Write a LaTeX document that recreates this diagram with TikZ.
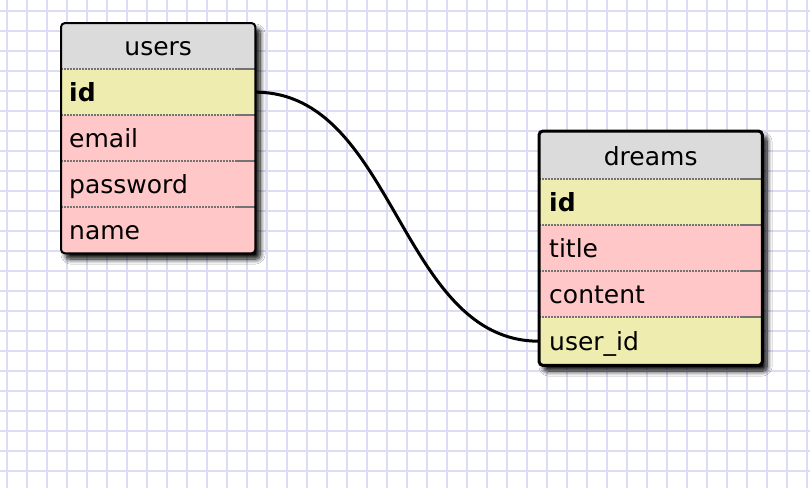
\documentclass[tikz,border=0pt]{standalone}
\usepackage{fontspec}
\setmainfont{DejaVu Sans}
\usepackage{tikz}
\usetikzlibrary{shadows.blur}
\definecolor{gridc}{RGB}{220,220,244}
\definecolor{headc}{RGB}{219,219,219}
\definecolor{keyc}{RGB}{238,236,175}
\definecolor{rowc}{RGB}{255,199,199}
\definecolor{sepc}{RGB}{115,115,115}

\begin{document}
\begin{tikzpicture}[x=1pt, y=-1pt, font=\fontsize{25}{30}\selectfont,
    cell/.style={anchor=north west, inner sep=0pt, inner xsep=8pt, minimum height=46pt,
      text width=#1, align=left, text height=20pt, text depth=2pt},
    head/.style={fill=headc, align=center},
    key/.style={fill=keyc},
    row/.style={fill=rowc},
    sep/.style={sepc, line width=1.5pt, dash pattern=on 1.5pt off 1.5pt},
    septip/.style={sepc, line width=2pt},
    shade/.style={rounded corners=4pt, fill=white, blur shadow={shadow xshift=5pt,
      shadow yshift=-6pt, shadow blur radius=5pt, shadow opacity=100,
      shadow blur steps=8}}]
    \useasboundingbox (0,0) rectangle (810,488);
    \fill[white] (0,0) rectangle (810,488);
    % grid
    \foreach \x in {7,27,...,807} \draw[gridc, line width=1.6pt] (\x,0) -- (\x,488);
    \foreach \y in {11,31,...,491} \draw[gridc, line width=1.6pt] (0,\y) -- (810,\y);

    % users
    \path[shade] (61,23) rectangle (255,253);
    \begin{scope}
      \clip[rounded corners=4pt] (61,23) rectangle (255,253);
      \node [cell=178pt, head] (uhead) at (61, 23) {users};
      \node [cell=178pt, key] (uid) at (61, 69) {\textbf{id}};
      \node [cell=178pt, row] (uemail) at (61, 115) {email};
      \node [cell=178pt, row] (upass) at (61, 161) {password};
      \node [cell=178pt, row] (uname) at (61, 207) {name};
    \end{scope}
    \foreach \n in {uid, uemail, upass, uname} {
      \draw[sep] (\n.north west) -- (\n.north east);
      \draw[septip] ([xshift=-20pt]\n.north east) -- (\n.north east);
    }
    \draw[rounded corners=4pt, line width=2pt] (uhead.north west) rectangle (uname.south east);

    % dreams
    \path[shade] (539,131) rectangle (762,365);
    \begin{scope}
      \clip[rounded corners=4pt] (539,131) rectangle (762,365);
      \node [cell=203pt, inner xsep=10pt, head, minimum height=48pt, text height=22pt] (dhead) at (539, 131) {dreams};
      \node [cell=203pt, inner xsep=10pt, key] (did) at (539, 179) {\textbf{id}};
      \node [cell=203pt, inner xsep=10pt, row] (dtitle) at (539, 225) {title};
      \node [cell=203pt, inner xsep=10pt, row] (dcontent) at (539, 271) {content};
      \node [cell=203pt, inner xsep=10pt, key, minimum height=48pt] (duid) at (539, 317) {user\_id};
    \end{scope}
    \foreach \n in {did, dtitle, dcontent, duid} {
      \draw[sep] (\n.north west) -- (\n.north east);
      \draw[septip] ([xshift=-20pt]\n.north east) -- (\n.north east);
    }
    \draw[rounded corners=4pt, line width=3pt] (dhead.north west) rectangle (duid.south east);

    % relation
    \draw[line width=3pt] (uid.east) .. controls +(140,0) and +(-140,0) .. (duid.west);
\end{tikzpicture}
\end{document}
